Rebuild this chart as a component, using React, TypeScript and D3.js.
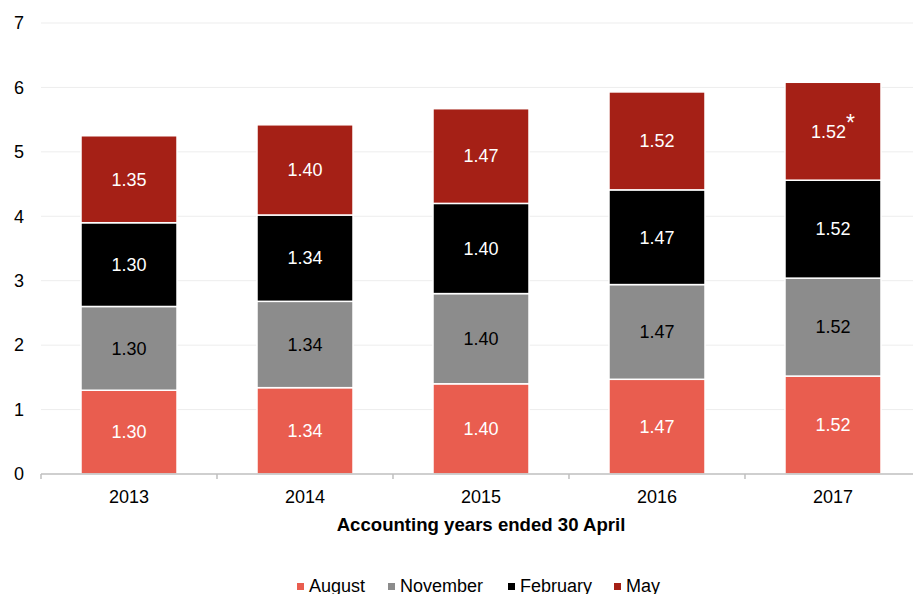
import React from "react";
import * as d3 from "d3";

const years = ["2013", "2014", "2015", "2016", "2017"];
const seriesNames = ["August", "November", "February", "May"];
const august = [1.3, 1.34, 1.4, 1.47, 1.52];
const november = [1.3, 1.34, 1.4, 1.47, 1.52];
const february = [1.3, 1.34, 1.4, 1.47, 1.52];
const may = [1.35, 1.4, 1.47, 1.52, 1.52];
const yTicks = [0, 1, 2, 3, 4, 5, 6, 7];
const colors = ["#E95D4F", "#8C8C8C", "#000000", "#A52016"];
const labelColors = ["#ffffff", "#000000", "#ffffff", "#ffffff"];

export default function App() {
  const W = 913, H = 594;
  const x0 = 41, x1 = 921, yBase = 474, yTop = 23;
  const x = d3.scaleBand<string>().domain(years).range([x0, x1]).paddingInner(0.4545).paddingOuter(0.2273);
  const y = d3.scaleLinear().domain([0, 7]).range([yBase, yTop]);
  const seriesData = [august, november, february, may];
  const rows = years.map((yr, i) => {
    const o: any = { year: yr };
    seriesNames.forEach((s, j) => (o[s] = seriesData[j][i]));
    return o;
  });
  const stacked = d3.stack<any>().keys(seriesNames)(rows);
  const font = "Arial, 'Liberation Sans', sans-serif";
  const legendX = [297, 388, 508, 614];
  return (
    <svg width={W} height={H} style={{ position: "absolute", left: 0, top: 0 }} fontFamily={font}>
      {yTicks.slice(1).map((t) => (
        <line key={t} x1={x0} x2={W} y1={y(t)} y2={y(t)} stroke="#EDEDED" strokeWidth={1} />
      ))}
      {yTicks.map((t) => (
        <text key={t} x={24} y={y(t)} dy="0.35em" textAnchor="end" fontSize={18} fill="#000">
          {t}
        </text>
      ))}
      {stacked.map((layer, j) => (
        <g key={layer.key}>
          {layer.map((d, i) => {
            const bx = x(years[i])!;
            const yt = y(d[1]);
            const yb = y(d[0]);
            return (
              <g key={i}>
                <rect x={bx} y={yt} width={x.bandwidth()} height={yb - yt} fill={colors[j]} stroke="#fff" strokeWidth={1.5} />
                <text x={bx + x.bandwidth() / 2} y={(yt + yb) / 2} dy="0.35em" textAnchor="middle" fontSize={18} fill={labelColors[j]}>
                  {seriesData[j][i].toFixed(2)}
                  {j === 3 && i === 4 ? (
                    <tspan dy="-0.3em" fontSize={23}>*</tspan>
                  ) : null}
                </text>
              </g>
            );
          })}
        </g>
      ))}
      <line x1={x0} x2={W} y1={yBase} y2={yBase} stroke="#BFBFBF" strokeWidth={1.5} />
      {years.map((yr, i) => (
        <line key={yr} x1={x0 + i * x.step()} x2={x0 + i * x.step()} y1={yBase} y2={yBase + 5} stroke="#BFBFBF" strokeWidth={1.5} />
      ))}
      {years.map((yr) => (
        <text key={yr} x={x(yr)! + x.bandwidth() / 2} y={497} dy="0.35em" textAnchor="middle" fontSize={18} fill="#000">
          {yr}
        </text>
      ))}
      <text x={481} y={524} dy="0.35em" textAnchor="middle" fontSize={18.6} fontWeight="bold" fill="#000">
        Accounting years ended 30 April
      </text>
      {seriesNames.map((s, j) => (
        <g key={s}>
          <rect x={legendX[j]} y={583} width={7} height={7} fill={colors[j]} />
          <text x={legendX[j] + 12} y={586} dy="0.35em" fontSize={18} fill="#000">
            {s}
          </text>
        </g>
      ))}
    </svg>
  );
}
